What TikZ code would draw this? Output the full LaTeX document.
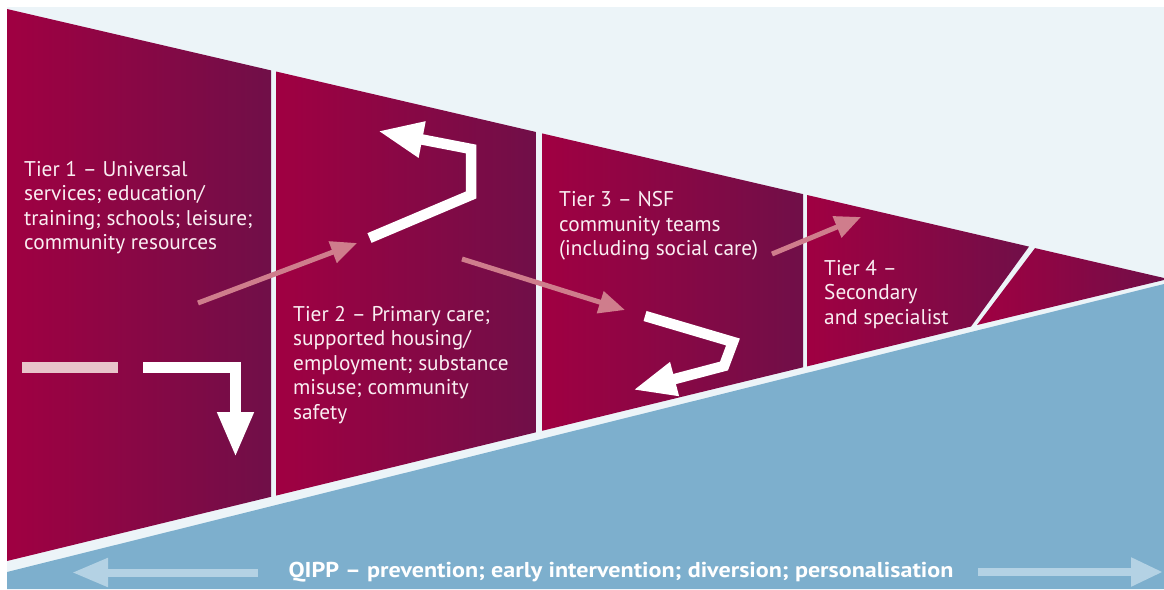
\documentclass[tikz,border=0pt]{standalone}
\usepackage{fontspec}
\setmainfont{PT Sans}
\usetikzlibrary{arrows.meta}
\definecolor{bgpale}{HTML}{ECF4F8}
\definecolor{crimL}{HTML}{A00042}
\definecolor{crimR}{HTML}{700F48}
\definecolor{blueband}{HTML}{7DAFCD}
\definecolor{paleblue}{HTML}{B4D2E4}
\definecolor{pinkarrow}{HTML}{CF7D8C}
\definecolor{palepink}{HTML}{E8C4CA}
\definecolor{textpale}{HTML}{FAEEF2}
\begin{document}
\begin{tikzpicture}[x=1pt,y=-1pt,
  panel/.style={left color=crimL, right color=crimR, draw=none},
  tiertext/.style={text=textpale, align=left, inner sep=0pt, anchor=base west,
    font=\fontsize{21.3}{24.5}\selectfont},
  qipptext/.style={text=white, inner sep=0pt, anchor=base,
    font=\fontsize{21.5}{24.5}\selectfont\bfseries\addfontfeature{FakeStretch=1.12}},
  whitearrow/.style={draw=white, line width=10.5pt, miter limit=10,
    -{Triangle[length=45pt,width=34pt]}},
  pinkarr/.style={draw=pinkarrow, line width=5pt,
    -{Triangle[length=26pt,width=22pt]}},
  bluearr/.style={draw=paleblue, line width=8pt,
    -{Triangle[length=34pt,width=27pt]}}
]
\useasboundingbox (0,0) rectangle (1164,589);
\fill[white] (0,0) rectangle (1164,589);
\fill[bgpale] (7,7) rectangle (1164,589);
% blue band
\fill[blueband] (7,572) -- (1164,284) -- (1164,589) -- (7,589) -- cycle;
% panels
\shade[panel] (7,9) -- (271,70.4) -- (271,496.8) -- (7,561) -- cycle;
\shade[panel] (276,71.5) -- (536,132.0) -- (536,432.3) -- (276,495.6) -- cycle;
\shade[panel] (542,133.4) -- (803,194.1) -- (803,367.3) -- (542,430.8) -- cycle;
\shade[panel] (807,195.0) -- (1029,246.6) -- (971,326.5) -- (807,366.4) -- cycle;
\shade[panel] (1035,248.1) -- (1164,278) -- (1164,280) -- (977,325) -- cycle;
% texts (anchor base = baseline of last line)
\node[tiertext] (t1) at (24,249.5) {Tier 1 – Universal\\services; education/\\training; schools; leisure;\\community resources};
\node[tiertext] (t2) at (293,419) {Tier 2 – Primary care;\\supported housing/\\employment; substance\\misuse; community\\safety};
\node[tiertext] (t3) at (559,255.7) {Tier 3 – NSF\\community teams\\(including social care)};
\node[tiertext] (t4) at (824,324) {Tier 4 –\\Secondary\\and specialist};
\node[qipptext] (q) at (621,577) {QIPP – prevention; early intervention; diversion; personalisation};
% tier 1 arrows
\coordinate (d1) at (22,367.5);
\coordinate (d2) at (118,367.5);
\draw[palepink, line width=10.5pt] (d1) -- (d2);
\coordinate (a1s) at (143,367.5);
\coordinate (a1c) at (235.5,367.5);
\coordinate (a1e) at (235.5,457);
\draw[whitearrow] (a1s) -- (a1c) -- (a1e);
% pink arrows
\coordinate (p1s) at (198,303);
\coordinate (p1e) at (357,243);
\draw[pinkarr] (p1s) -- (p1e);
\coordinate (p2s) at (462,259);
\coordinate (p2e) at (625,310);
\draw[pinkarr] (p2s) -- (p2e);
\coordinate (p3s) at (772,254);
\coordinate (p3e) at (861,217);
\draw[pinkarr] (p3s) -- (p3e);
% tier 2 white arrow
\coordinate (a2s) at (369.5,238);
\coordinate (a2c1) at (471,195);
\coordinate (a2c2) at (471,149);
\coordinate (a2e) at (378,131);
\draw[whitearrow] (a2s) -- (a2c1) -- (a2c2) -- (a2e);
% tier 3 white arrow
\coordinate (a3s) at (645,316);
\coordinate (a3c1) at (733,342);
\coordinate (a3c2) at (724,366);
\coordinate (a3e) at (633,390);
\draw[whitearrow, -{Triangle[length=43pt,width=32pt]}] (a3s) -- (a3c1) -- (a3c2) -- (a3e);
% bottom arrows
\coordinate (b1s) at (258,572.5);
\coordinate (b1e) at (72,572.5);
\draw[bluearr, -{Triangle[length=36pt,width=27pt]}] (b1s) -- (b1e);
\coordinate (b2s) at (978,572);
\coordinate (b2e) at (1163,572);
\draw[bluearr, -{Triangle[length=32pt,width=27pt]}] (b2s) -- (b2e);
\end{tikzpicture}
\end{document}
